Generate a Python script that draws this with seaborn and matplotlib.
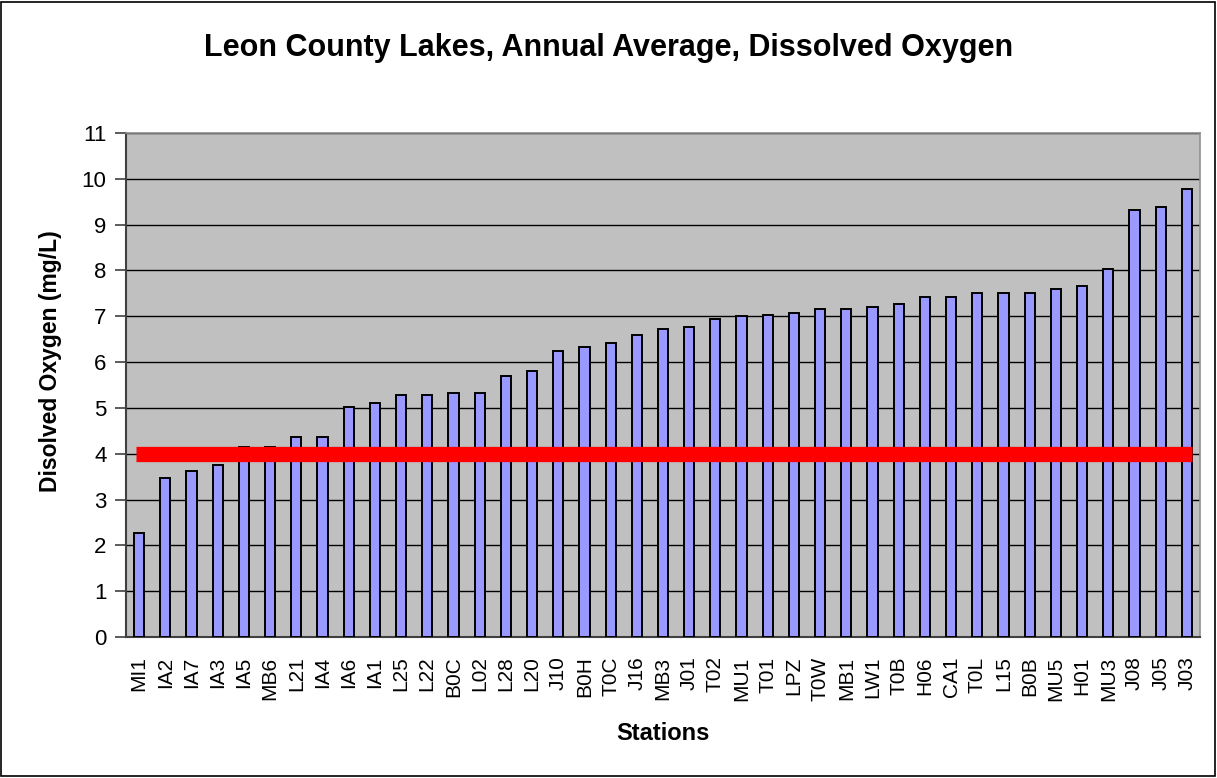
import numpy as np
import pandas as pd
import seaborn as sns
import matplotlib.pyplot as plt
from matplotlib.patches import Rectangle

stations = ['MI1', 'IA2', 'IA7', 'IA3', 'IA5', 'MB6', 'L21', 'IA4', 'IA6', 'IA1',
            'L25', 'L22', 'B0C', 'L02', 'L28', 'L20', 'J10', 'B0H', 'T0C', 'J16',
            'MB3', 'J01', 'T02', 'MU1', 'T01', 'LPZ', 'T0W', 'MB1', 'LW1', 'T0B',
            'H06', 'CA1', 'T0L', 'L15', 'B0B', 'MU5', 'H01', 'MU3', 'J08', 'J05', 'J03']
oxygen = [2.28, 3.46, 3.62, 3.75, 4.15, 4.15, 4.37, 4.37, 5.03, 5.11,
          5.29, 5.29, 5.32, 5.32, 5.69, 5.81, 6.25, 6.33, 6.42, 6.59,
          6.73, 6.77, 6.95, 7.00, 7.03, 7.08, 7.16, 7.16, 7.21, 7.26,
          7.43, 7.43, 7.51, 7.51, 7.51, 7.60, 7.65, 8.04, 9.31, 9.39, 9.78]
standard = 4.0
yticks = list(range(0, 12))

df = pd.DataFrame({'station': stations, 'do': oxygen})

sns.set_style('white')
plt.rcParams['font.family'] = ['Liberation Sans', 'DejaVu Sans']
plt.rcParams.update({'text.color': 'black', 'axes.labelcolor': 'black',
                     'xtick.color': 'black', 'ytick.color': 'black'})

W, H = 1217, 778
fig = plt.figure(figsize=(W / 100, H / 100), dpi=100)
left, right, top, bottom = 126, 1200, 133, 637
ax = fig.add_axes([left / W, 1 - bottom / H, (right - left) / W, (bottom - top) / H])

sns.barplot(data=df, x='station', y='do', color='#9999FF', saturation=1,
            width=0.39, edgecolor='black', linewidth=1.4, ax=ax, zorder=3)

n = len(stations)
ax.hlines(standard, -0.1, n - 1 + 0.2, color='#FF0000', linewidth=11, zorder=4)

ax.set_facecolor('#C0C0C0')
ax.set_xlim(-0.5, n - 0.5)
ax.set_ylim(0, 11)
ax.set_yticks(yticks)
ax.yaxis.grid(True, color='black', linewidth=1)
ax.set_axisbelow(True)

for side in ['top', 'right']:
    ax.spines[side].set_color('#909090')
    ax.spines[side].set_linewidth(1.2)
for side in ['left', 'bottom']:
    ax.spines[side].set_color('#404040')
    ax.spines[side].set_linewidth(1.5)

# category ticks sit between bars
ax.set_xticks(np.arange(n))
ax.set_xticklabels(stations, rotation=90, fontsize=15)
ax.set_xticks(np.arange(-0.5, n, 1), minor=True)
ax.tick_params(axis='x', which='major', length=0, pad=14, labelcolor='black')
ax.tick_params(axis='x', which='minor', length=7, width=1.2, color='#404040', direction='out')
ax.tick_params(axis='y', length=8, width=1.2, color='#404040', labelsize=16,
               labelcolor='black', left=True, direction='out', pad=6)

ax.set_xlabel('Stations', fontsize=17, fontweight='bold')
ax.set_ylabel('Disolved Oxygen (mg/L)', fontsize=16.5, fontweight='bold')
ax.xaxis.set_label_coords(0.5, (bottom - 733) / (bottom - top), transform=ax.transAxes)
ax.yaxis.set_label_coords((51 - left) / (right - left), (bottom - 361) / (bottom - top),
                          transform=ax.transAxes)
for lab in [ax.xaxis.label, ax.yaxis.label]:
    lab.set_verticalalignment('center')

fig.text(0.5, 1 - 48 / H, 'Leon County Lakes, Annual Average, Dissolved Oxygen',
         ha='center', va='center', fontsize=22, fontweight='bold', color='black')

fig.patches.append(Rectangle((0.001, 0.002), 0.997, 0.996, transform=fig.transFigure,
                             fill=False, edgecolor='black', linewidth=1.2))

fig.savefig('out.png', dpi=100)
